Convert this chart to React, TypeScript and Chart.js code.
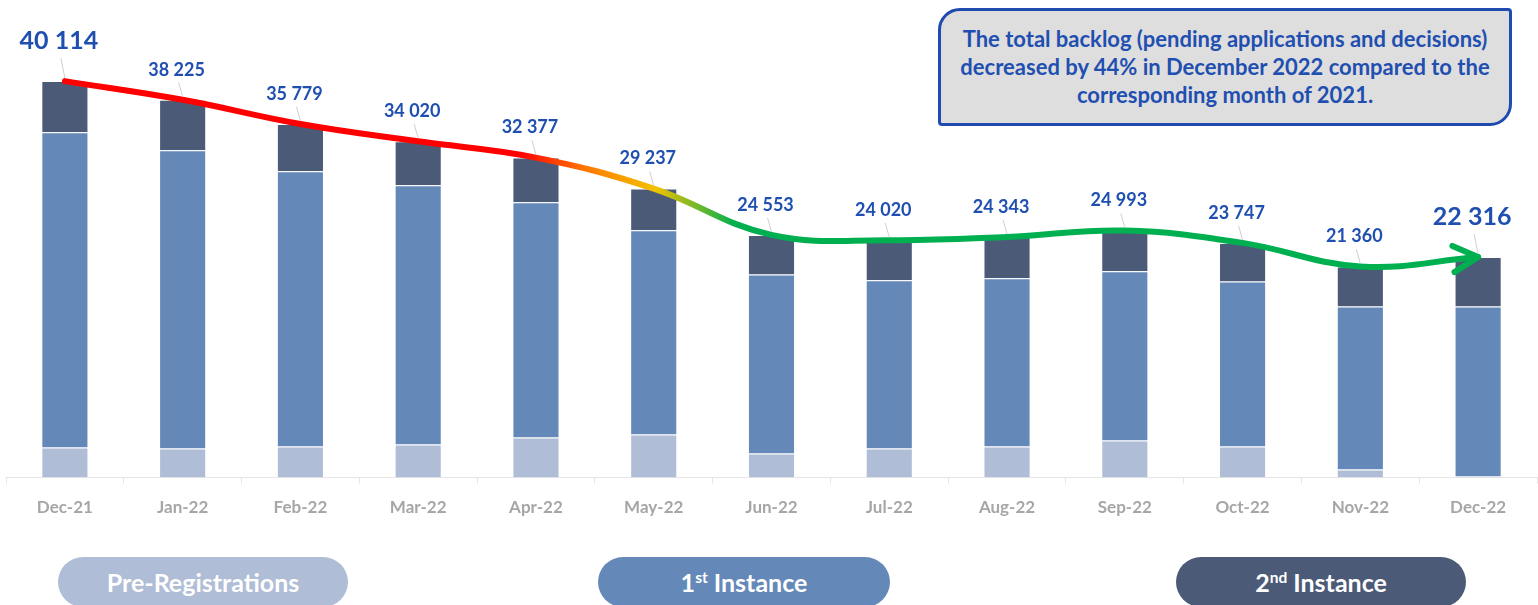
import React, { useEffect, useRef } from "react";
import { Chart, registerables } from "chart.js";

Chart.register(...registerables);

const categories = ["Dec-21", "Jan-22", "Feb-22", "Mar-22", "Apr-22", "May-22", "Jun-22", "Jul-22", "Aug-22", "Sep-22", "Oct-22", "Nov-22", "Dec-22"];
const totals = [40114, 38225, 35779, 34020, 32377, 29237, 24553, 24020, 24343, 24993, 23747, 21360, 22316];
const preRegistrations = [3040, 2940, 3140, 3340, 4050, 4360, 2430, 2940, 3140, 3750, 3140, 810, 100];
const firstInstance = [31910, 30190, 27860, 26240, 23810, 20670, 18130, 17020, 17020, 17120, 16710, 16510, 17220];
const secondInstance = [5164, 5095, 4779, 4440, 4517, 4207, 3993, 4060, 4183, 4123, 3897, 4040, 4996];

const noteLines = [
  "The total backlog (pending applications and decisions)",
  "decreased by 44% in December 2022 compared to the",
  "corresponding month of 2021.",
];

const LIGHT = "#b0bdd6";
const MID = "#6489b8";
const DARK = "#4b5a77";
const BLUE = "#1f4fb0";
const FONT = "Lato, 'Open Sans', sans-serif";

function fmt(v: number) {
  const th = Math.floor(v / 1000);
  const rest = String(v % 1000).padStart(3, "0");
  return `${th} ${rest}`;
}

const labelPlugin = {
  id: "totalsLabels",
  afterDatasetsDraw(chart: any) {
    const ctx = chart.ctx;
    const lineMeta = chart.getDatasetMeta(3);
    const pts = lineMeta.data;
    const n = pts.length;
    ctx.save();
    // arrowhead
    const tip = pts[n - 1];
    const prev = pts[n - 2];
    const bx = tip.cp1x !== undefined ? tip.cp1x : prev.x;
    const by = tip.cp1y !== undefined ? tip.cp1y : prev.y;
    const ang = Math.atan2(tip.y - by, tip.x - bx);
    const len = 28;
    const spread = (28 * Math.PI) / 180;
    ctx.strokeStyle = "#00b050";
    ctx.lineWidth = 6;
    ctx.lineCap = "round";
    ctx.lineJoin = "round";
    ctx.beginPath();
    ctx.moveTo(tip.x - len * Math.cos(ang - spread), tip.y - len * Math.sin(ang - spread));
    ctx.lineTo(tip.x, tip.y);
    ctx.lineTo(tip.x - len * Math.cos(ang + spread), tip.y - len * Math.sin(ang + spread));
    ctx.stroke();

    // labels and leader lines
    const barMeta = chart.getDatasetMeta(2);
    barMeta.data.forEach((bar: any, i: number) => {
      const big = i === 0 || i === n - 1;
      const size = big ? 25 : 18;
      const off = big ? 40 : 30;
      const cy = bar.y - off;
      ctx.strokeStyle = "#cfcfcf";
      ctx.lineWidth = 1;
      ctx.lineCap = "butt";
      ctx.beginPath();
      ctx.moveTo(bar.x - 4, cy + size * 0.6 + 2);
      ctx.lineTo(bar.x, bar.y - 3);
      ctx.stroke();
      ctx.fillStyle = BLUE;
      ctx.font = `bold ${size}px ${FONT}`;
      ctx.textAlign = "center";
      ctx.textBaseline = "middle";
      ctx.fillText(fmt(totals[i]), bar.x - 6, cy);
    });
    ctx.restore();
  },
};

function lineGradient(context: any) {
  const chart = context.chart;
  const area = chart.chartArea;
  if (!area) return "#ff0000";
  const g = chart.ctx.createLinearGradient(area.left, 0, area.right, 0);
  g.addColorStop(0, "#ff0000");
  g.addColorStop(0.335, "#ff0000");
  g.addColorStop(0.38, "#ff7a00");
  g.addColorStop(0.424, "#f2c200");
  g.addColorStop(0.476, "#00b050");
  g.addColorStop(1, "#00b050");
  return g;
}

export default function App() {
  const ref = useRef<HTMLCanvasElement | null>(null);

  useEffect(() => {
    document.body.style.margin = "0";
    if (!ref.current) return;
    const chart = new Chart(ref.current, {
      type: "bar",
      data: {
        labels: categories,
        datasets: [
          { label: "Pre-Registrations", data: preRegistrations, backgroundColor: LIGHT, borderColor: "rgba(255,255,255,0.35)", borderWidth: 1, barPercentage: 0.4, categoryPercentage: 1, order: 1, stack: "bars" },
          { label: "1st Instance", data: firstInstance, backgroundColor: MID, borderColor: "rgba(255,255,255,0.35)", borderWidth: 1, barPercentage: 0.4, categoryPercentage: 1, order: 1, stack: "bars" },
          { label: "2nd Instance", data: secondInstance, backgroundColor: DARK, borderColor: "rgba(255,255,255,0.35)", borderWidth: 1, barPercentage: 0.4, categoryPercentage: 1, order: 1, stack: "bars" },
          {
            type: "line" as any,
            label: "Total",
            data: totals,
            borderColor: lineGradient as any,
            borderWidth: 6,
            borderCapStyle: "round",
            tension: 0.4,
            pointRadius: 0,
            fill: false,
            order: 0,
            stack: "total",
          } as any,
        ],
      },
      options: {
        animation: false,
        responsive: false,
        maintainAspectRatio: false,
        layout: { padding: { left: 6, right: 1, top: 0, bottom: 0 } },
        plugins: { legend: { display: false }, tooltip: { enabled: false } },
        scales: {
          x: {
            stacked: true,
            grid: { display: true, drawOnChartArea: false, drawTicks: true, tickLength: 6, color: "#e6e6e6", offset: true },
            border: { display: true, color: "#e6e6e6" },
            ticks: { color: "#a6a6a6", font: { family: FONT, size: 17, weight: "bold" }, padding: 14 },
          },
          y: { stacked: true, display: false, min: 0, max: 48320 },
        },
      },
      plugins: [labelPlugin],
    });
    return () => chart.destroy();
  }, []);

  const pill = (left: number, width: number, bg: string, content: React.ReactNode) => (
    <div
      style={{
        position: "absolute",
        left,
        top: 557,
        width,
        height: 50,
        borderRadius: 25,
        background: bg,
        color: "#ffffff",
        fontFamily: FONT,
        fontWeight: 700,
        fontSize: 25,
        lineHeight: "50px",
        textAlign: "center",
      }}
    >
      {content}
    </div>
  );

  const sup = (t: string) => (
    <span style={{ fontSize: "0.62em", position: "relative", top: "-0.55em" }}>{t}</span>
  );

  return (
    <div style={{ position: "relative", width: 1538, height: 605, overflow: "hidden", background: "#ffffff" }}>
      <canvas ref={ref} width={1538} height={532} style={{ position: "absolute", left: 0, top: 0, width: 1538, height: 532 }} />
      <div
        style={{
          position: "absolute",
          left: 938,
          top: 8,
          width: 574,
          height: 118,
          boxSizing: "border-box",
          border: "3px solid #1f4ab0",
          borderRadius: "22px 4px 22px 4px",
          background: "#dedede",
          color: BLUE,
          fontFamily: FONT,
          fontWeight: 700,
          fontSize: 22,
          lineHeight: "28px",
          textAlign: "center",
          display: "flex",
          flexDirection: "column",
          justifyContent: "center",
        }}
      >
        {noteLines.map((l, i) => (
          <div key={i}>{l}</div>
        ))}
      </div>
      {pill(58, 290, LIGHT, "Pre-Registrations")}
      {pill(598, 292, MID, <>1{sup("st")} Instance</>)}
      {pill(1176, 290, DARK, <>2{sup("nd")} Instance</>)}
    </div>
  );
}
